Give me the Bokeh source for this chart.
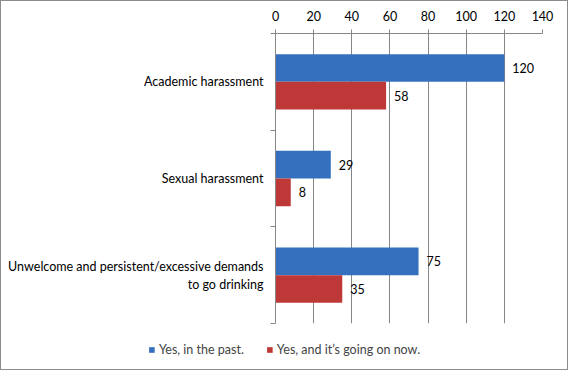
from bokeh.plotting import figure
from bokeh.layouts import column
from bokeh.core.properties import value
from bokeh.models import ColumnDataSource, FixedTicker, Range1d, LabelSet, Legend, LegendItem
from bokeh.embed import file_html
from bokeh.resources import INLINE

categories = ["Academic harassment", "Sexual harassment",
              "Unwelcome and persistent/excessive demands\nto go drinking"]
past = [120, 29, 75]
now = [58, 8, 35]
series_names = ["Yes, in the past.", "Yes, and it\u2019s going on now."]
x_ticks = [0, 20, 40, 60, 80, 100, 120, 140]

FONT = "Lato"
FS = "12.5px"
AXIS = "#868686"
BLUE = "#3570BE"
RED = "#BE3837"

n = len(categories)
ypos = [n - i - 0.5 for i in range(n)]
off = 0.143
bh = 0.286

src = ColumnDataSource(dict(
    y=ypos,
    yb=[y + off for y in ypos],
    yr=[y - off for y in ypos],
    past=past, now=now,
    past_t=[str(v) for v in past],
    now_t=[str(v) for v in now],
))

p = figure(width=566, height=334, x_range=Range1d(0, 140), y_range=Range1d(0, n),
           x_axis_location="above", output_backend="svg", toolbar_location=None,
           min_border_left=274, min_border_right=25, min_border_top=32, min_border_bottom=12)
p.outline_line_color = None
p.frame_align = False

r1 = p.hbar(y="yb", right="past", left=0, height=bh, source=src,
            fill_color=BLUE, line_color=None)
r2 = p.hbar(y="yr", right="now", left=0, height=bh, source=src,
            fill_color=RED, line_color=None)

for col, ycol in (("past_t", "yb"), ("now_t", "yr")):
    xcol = "past" if col == "past_t" else "now"
    p.add_layout(LabelSet(x=xcol, y=ycol, text=col, source=src, x_offset=8,
                          text_baseline="middle", text_align="left",
                          text_font=value(FONT), text_font_size=value(FS),
                          text_color="#000000"))

xa = p.xaxis[0]
xa.ticker = FixedTicker(ticks=x_ticks)
xa.axis_line_color = AXIS
xa.major_tick_line_color = AXIS
xa.major_tick_out = 4
xa.major_tick_in = 0
xa.minor_tick_line_color = None
xa.major_label_standoff = 9
xa.major_label_text_font = FONT
xa.major_label_text_font_size = FS
xa.major_label_text_color = "#000000"

ya = p.yaxis[0]
ya.ticker = FixedTicker(ticks=ypos, minor_ticks=list(range(n + 1)))
ya.major_label_overrides = {y: c for y, c in zip(ypos, categories)}
ya.axis_line_color = AXIS
ya.major_tick_line_color = None
ya.major_tick_out = 0
ya.major_tick_in = 0
ya.minor_tick_line_color = AXIS
ya.minor_tick_out = 5
ya.minor_tick_in = 0
ya.major_label_standoff = 7
ya.major_label_text_font = FONT
ya.major_label_text_font_size = FS
ya.major_label_text_color = "#000000"

p.xgrid.grid_line_color = AXIS
p.ygrid.grid_line_color = None

# legend strip (its renderers use the same data but sit outside this strip's visible range)
leg = figure(width=566, height=34, x_range=Range1d(0, 140), y_range=Range1d(100, 101),
             x_axis_type=None, y_axis_type=None, output_backend="svg", toolbar_location=None,
             min_border_left=0, min_border_right=0, min_border_top=0, min_border_bottom=0)
leg.outline_line_color = None
leg.frame_align = False
leg.xgrid.visible = False
leg.ygrid.visible = False
l1 = leg.hbar(y="yb", right="past", left=0, height=bh, source=src, fill_color=BLUE, line_color=None)
l2 = leg.hbar(y="yr", right="now", left=0, height=bh, source=src, fill_color=RED, line_color=None)

legend = Legend(items=[LegendItem(label=series_names[0], renderers=[l1]),
                       LegendItem(label=series_names[1], renderers=[l2])],
                orientation="horizontal", location="top_center",
                glyph_width=7, glyph_height=7, label_standoff=4, spacing=22,
                border_line_color=None, background_fill_alpha=0, padding=4, margin=7,
                label_text_font=FONT, label_text_font_size=FS, label_height=14)
leg.add_layout(legend, "center")

layout = column(p, leg, styles={"border": "1px solid #8c8c8c"})

open("out.html", "w").write(file_html(layout, INLINE))
